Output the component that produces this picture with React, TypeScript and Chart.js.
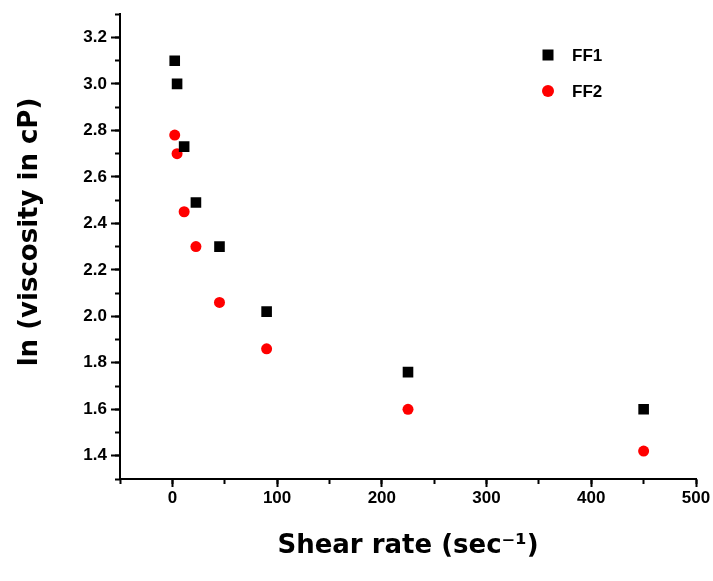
import React, { useEffect, useRef } from 'react';
import { Chart, registerables } from 'chart.js';

Chart.register(...registerables);

// ---- data ----
const shearRates = [2.25, 4.5, 11.25, 22.5, 45, 90, 225, 450];
const ff1Values = [3.1, 3.0, 2.73, 2.49, 2.3, 2.02, 1.76, 1.6];
const ff2Values = [2.78, 2.7, 2.45, 2.3, 2.06, 1.86, 1.6, 1.42];
const seriesNames = ['FF1', 'FF2'];
const xMajorTicks = [0, 100, 200, 300, 400, 500];
const yMajorTicks = [1.4, 1.6, 1.8, 2.0, 2.2, 2.4, 2.6, 2.8, 3.0, 3.2];
const xTitle = 'Shear rate (sec\u207B\u00B9)';
const yTitle = 'ln (viscosity in cP)';

const FONT = "'Liberation Sans', Arial, sans-serif";
const TITLE_FONT = "'DejaVu Sans', 'Liberation Sans', sans-serif";

const legendPlugin = {
  id: 'cornerLegend',
  afterDraw(chart: any) {
    const { ctx } = chart;
    ctx.save();
    chart.data.datasets.forEach((ds: any, i: number) => {
      const x = 548;
      const y = 55 + i * 36;
      ctx.fillStyle = ds.pointBackgroundColor;
      if (ds.pointStyle === 'rect') {
        ctx.fillRect(x - 5.5, y - 5.5, 11, 11);
      } else {
        ctx.beginPath();
        ctx.arc(x, y, 6, 0, Math.PI * 2);
        ctx.fill();
      }
      ctx.fillStyle = '#000';
      ctx.font = `bold 17px ${FONT}`;
      ctx.textBaseline = 'middle';
      ctx.textAlign = 'left';
      ctx.fillText(ds.label, 572, y + 1);
    });
    ctx.restore();
  },
};

const yTitlePlugin = {
  id: 'yAxisTitle',
  afterDraw(chart: any) {
    const { ctx } = chart;
    ctx.save();
    ctx.translate(30, 232);
    ctx.rotate(-Math.PI / 2);
    ctx.fillStyle = '#000';
    ctx.font = `bold 26px ${TITLE_FONT}`;
    ctx.textAlign = 'center';
    ctx.textBaseline = 'middle';
    ctx.fillText(yTitle, 0, 0);
    ctx.restore();
  },
};

export default function App() {
  const ref = useRef<HTMLCanvasElement | null>(null);

  useEffect(() => {
    if (!ref.current) return;
    const toPts = (ys: number[]) => shearRates.map((x, i) => ({ x, y: ys[i] }));
    const chart = new Chart(ref.current, {
      type: 'scatter',
      data: {
        datasets: [
          {
            label: seriesNames[0],
            data: toPts(ff1Values),
            pointStyle: 'rect',
            pointRadius: 7.5,
            pointBackgroundColor: '#000000',
            pointBorderColor: '#000000',
            pointBorderWidth: 0,
            xAxisID: 'x',
            yAxisID: 'y',
          },
          {
            label: seriesNames[1],
            data: toPts(ff2Values),
            pointStyle: 'circle',
            pointRadius: 5.5,
            pointBackgroundColor: '#ff0000',
            pointBorderColor: '#ff0000',
            pointBorderWidth: 0,
            xAxisID: 'x',
            yAxisID: 'y',
          },
        ] as any,
      },
      options: {
        responsive: false,
        animation: false,
        layout: { padding: { top: 14, right: 17, left: 0, bottom: 0 } },
        plugins: { legend: { display: false }, tooltip: { enabled: false } },
        scales: {
          x: {
            type: 'linear',
            position: 'bottom',
            weight: 1,
            min: -50,
            max: 500,
            afterBuildTicks: (s: any) => {
              s.ticks = xMajorTicks.map((v) => ({ value: v }));
            },
            afterFit: (s: any) => {
              s.height = 102;
            },
            ticks: {
              color: '#000',
              font: { family: FONT, size: 17, weight: 'bold' },
              padding: 1,
              maxRotation: 0,
              callback: (v: any) => String(v),
            },
            grid: { drawOnChartArea: false, drawTicks: true, tickLength: 8, tickWidth: 2, tickColor: '#000' },
            border: { display: true, color: '#000', width: 2 },
            title: {
              display: true,
              text: xTitle,
              color: '#000',
              font: { family: TITLE_FONT, size: 26, weight: 'bold' },
              padding: { top: 0, bottom: 19 },
            },
          },
          xMinor: {
            type: 'linear',
            position: 'bottom',
            weight: 0,
            min: -50,
            max: 500,
            ticks: { stepSize: 50, display: false },
            afterFit: (s: any) => {
              s.height = 0;
            },
            grid: { drawOnChartArea: false, drawTicks: true, tickLength: 5, tickWidth: 2, tickColor: '#000' },
            border: { display: false },
          },
          y: {
            type: 'linear',
            position: 'left',
            weight: 1,
            min: 1.3,
            max: 3.3,
            afterBuildTicks: (s: any) => {
              s.ticks = yMajorTicks.map((v) => ({ value: v }));
            },
            afterFit: (s: any) => {
              s.width = 120;
            },
            ticks: {
              color: '#000',
              font: { family: FONT, size: 17, weight: 'bold' },
              padding: 4,
              callback: (v: any) => Number(v).toFixed(1),
            },
            grid: { drawOnChartArea: false, drawTicks: true, tickLength: 9, tickWidth: 2, tickColor: '#000' },
            border: { display: true, color: '#000', width: 2 },
            title: { display: false },
          },
          yMinor: {
            type: 'linear',
            position: 'left',
            weight: 0,
            min: 1.3,
            max: 3.3,
            ticks: { stepSize: 0.1, display: false },
            afterFit: (s: any) => {
              s.width = 0;
            },
            grid: { drawOnChartArea: false, drawTicks: true, tickLength: 5, tickWidth: 2, tickColor: '#000' },
            border: { display: false },
          },
        },
      } as any,
      plugins: [legendPlugin, yTitlePlugin],
    });
    return () => chart.destroy();
  }, []);

  return (
    <div style={{ position: 'absolute', left: 0, top: 0, width: 713, height: 581, background: '#fff' }}>
      <canvas ref={ref} width={713} height={581} style={{ display: 'block' }} />
    </div>
  );
}
